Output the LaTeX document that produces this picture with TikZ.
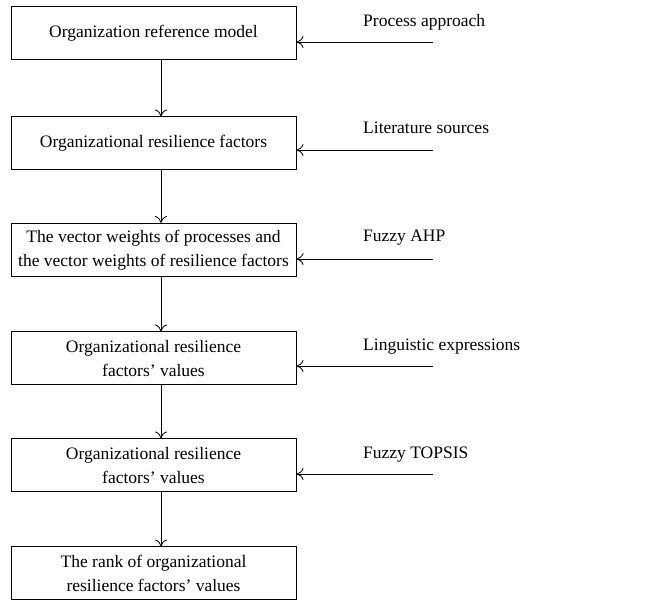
\documentclass[tikz,border=0pt]{standalone}
\usepackage{fontspec}
\setmainfont{Liberation Serif}
\tikzset{
  stage/.style={draw, line width=1pt, minimum width=285pt, minimum height=53pt,
                align=center, inner sep=2pt, font=\fontsize{17.5}{24}\selectfont},
  source/.style={anchor=west, inner sep=0pt, font=\fontsize{17.5}{24}\selectfont},
  flow/.style={->, line width=0.8pt, >={To[length=7pt,width=12pt,line width=0.8pt]}}
}
\usetikzlibrary{arrows.meta}
\begin{document}
\begin{tikzpicture}[x=1pt, y=-1pt]
    \useasboundingbox (0,0) rectangle (654,601);

    \node[stage] (model)   at (153.5, 33.5){Organization reference model};
    \node[stage] (factors) at (153.5, 143.5){Organizational resilience factors};
    \node[stage] (weights) at (153.5, 250){The vector weights of processes and\\the vector weights of resilience factors};
    \node[stage] (values)  at (153.5, 358.5){Organizational resilience\\factors’ values};
    \node[stage] (fvalues) at (153.5, 465.5){Organizational resilience\\factors’ values};
    \node[stage] (rank)    at (153.5, 573.5){The rank of organizational\\resilience factors’ values};

    \node[source] (process)    at (363, 22){Process approach};
    \node[source] (literature) at (363, 128){Literature sources};
    \node[source] (ahp)        at (363, 238){Fuzzy AHP};
    \node[source] (linguistic) at (363, 347){Linguistic expressions};
    \node[source] (topsis)     at (363, 455){Fuzzy TOPSIS};

    \coordinate (in1) at (433, 42);
    \coordinate (in2) at (433, 150);
    \coordinate (in3) at (433, 259);
    \coordinate (in4) at (433, 366);
    \coordinate (in5) at (433, 474);

    \draw[flow] ([xshift=7.5pt]model.south)   -- ([xshift=7.5pt]factors.north);
    \draw[flow] ([xshift=7.5pt]factors.south) -- ([xshift=7.5pt]weights.north);
    \draw[flow] ([xshift=7.5pt]weights.south) -- ([xshift=7.5pt]values.north);
    \draw[flow] ([xshift=7.5pt]values.south)  -- ([xshift=7.5pt]fvalues.north);
    \draw[flow] ([xshift=7.5pt]fvalues.south) -- ([xshift=7.5pt]rank.north);

    \draw[flow] (in1) -- (in1 -| model.east);
    \draw[flow] (in2) -- (in2 -| factors.east);
    \draw[flow] (in3) -- (in3 -| weights.east);
    \draw[flow] (in4) -- (in4 -| values.east);
    \draw[flow] (in5) -- (in5 -| fvalues.east);
  \end{tikzpicture}
\end{document}
